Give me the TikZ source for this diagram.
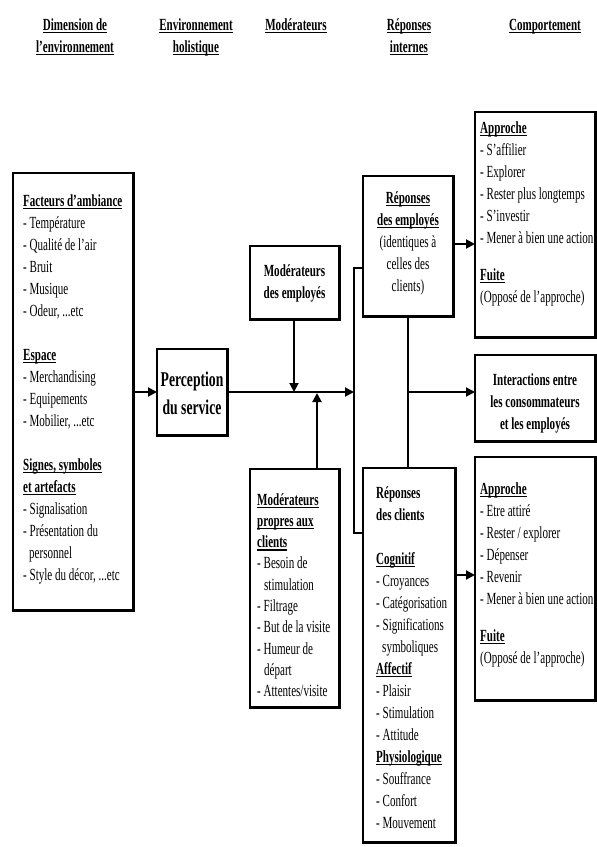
\documentclass[tikz,border=0pt]{standalone}
\usepackage{fontspec}
\setmainfont{Liberation Serif}[FakeStretch=0.65]
\usetikzlibrary{arrows.meta}
\tikzset{
  box/.style={draw, line width=1.3pt, inner sep=0pt, outer sep=0pt, fill=white, anchor=north west},
  txt/.style={inner sep=0pt, anchor=base west, font=\fontsize{17}{22}\selectfont},
  ctxt/.style={inner sep=0pt, anchor=base, font=\fontsize{17}{22}\selectfont},
  arr/.style={line width=2pt, -{Triangle[length=9pt,width=9pt]}},
  ln/.style={line width=2pt},
  shadowline/.style={line width=2.8pt, line cap=rect},
}
\newcommand\shd[1]{\draw[shadowline] ([xshift=0.7pt,yshift=-0.7pt]#1.south west) -- ([xshift=0.7pt,yshift=-0.7pt]#1.south east) -- ([xshift=0.7pt,yshift=-0.7pt]#1.north east);}
\newcommand\hd[1]{\textbf{\setbox0\hbox{#1}\rlap{\vrule height -1.8pt depth 2.9pt width \wd0}\box0}}
\begin{document}
\begin{tikzpicture}[x=1pt,y=-1pt]
\useasboundingbox (0,0) rectangle (597,847);
\fill[white] (0,0) rectangle (597,847);

% headers
\node[ctxt] (h1) at (75,30) {\parbox[t]{140pt}{\centering\hd{Dimension de}\\\hd{l'environnement}}};
\node[ctxt] (h2) at (196,30) {\parbox[t]{140pt}{\centering\hd{Environnement}\\\hd{holistique}}};
\node[ctxt] (h3) at (296,30) {\parbox[t]{140pt}{\centering\hd{Modérateurs}}};
\node[ctxt] (h4) at (409,30) {\parbox[t]{140pt}{\centering\hd{Réponses}\\\hd{internes}}};
\node[ctxt] (h5) at (545,30) {\parbox[t]{140pt}{\centering\hd{Comportement}}};

% boxes
\node[box, minimum width=120pt, minimum height=437pt] (lb) at (13,173) {};
\node[box, minimum width=70pt, minimum height=86pt] (perc) at (157,349) {};
\node[box, minimum width=89pt, minimum height=73pt] (me) at (250,246) {};
\node[box, minimum width=89pt, minimum height=238pt] (mc) at (250,469) {};
\node[box, minimum width=90pt, minimum height=140pt] (re) at (363,176) {};
\node[box, minimum width=92pt, minimum height=374pt] (rc) at (363,468) {};
\node[box, minimum width=120pt, minimum height=225pt] (ap1) at (475,112) {};
\node[box, minimum width=120pt, minimum height=86pt] (inter) at (475,355) {};
\node[box, minimum width=120pt, minimum height=243pt] (ap2) at (475,457) {};
\shd{lb}\shd{perc}\shd{me}\shd{mc}\shd{re}\shd{rc}\shd{ap1}\shd{inter}\shd{ap2}

% texts
\node[txt] (lbt) at (23,206) {\parbox[t]{200pt}{\raggedright
\hd{Facteurs d'ambiance}\\
- Température\\
- Qualité de l'air\\
- Bruit\\
- Musique\\
- Odeur, ...etc\\[22pt]
\hd{Espace}\\
- Merchandising\\
- Equipements\\
- Mobilier, ...etc\\[22pt]
\hd{Signes, symboles}\\
\hd{et artefacts}\\
- Signalisation\\
- Présentation du\\
\hspace*{6pt}personnel\\
- Style du décor, ...etc}};

\node[ctxt, font=\fontsize{21}{28}\selectfont\bfseries] (perct) at (192,386) {\parbox[t]{100pt}{\centering Perception\\du service}};

\node[ctxt] (met) at (294.5,276) {\parbox[t]{100pt}{\centering\textbf{Modérateurs}\\\textbf{des employés}}};

\node[txt, font=\fontsize{17}{21.3}\selectfont] (mct) at (257,505) {\parbox[t]{200pt}{\raggedright
\hd{Modérateurs}\\
\hd{propres aux}\\
\hd{clients}\\
- Besoin de\\
\hspace*{7pt}stimulation\\
- Filtrage\\
- But de la visite\\
- Humeur de\\
\hspace*{7pt}départ\\
- Attentes/visite}};

\node[ctxt] (ret) at (408,203) {\parbox[t]{100pt}{\centering
\hd{Réponses}\\
\hd{des employés}\\
(identiques à\\
celles des\\
clients)}};

\node[txt] (rct) at (376,498) {\parbox[t]{200pt}{\raggedright
\textbf{Réponses}\\
\textbf{des clients}\\[22pt]
\hd{Cognitif}\\
- Croyances\\
- Catégorisation\\
- Significations\\
\hspace*{6pt}symboliques\\
\hd{Affectif}\\
- Plaisir\\
- Stimulation\\
- Attitude\\
\hd{Physiologique}\\
- Souffrance\\
- Confort\\
- Mouvement}};

\node[txt] (ap1t) at (480,133) {\parbox[t]{200pt}{\raggedright
\hd{Approche}\\
- S'affilier\\
- Explorer\\
- Rester plus longtemps\\
- S'investir\\
- Mener à bien une action\\[15pt]
\hd{Fuite}\\
(Opposé de l'approche)}};

\node[ctxt] (intert) at (535,385) {\parbox[t]{120pt}{\centering\bfseries
Interactions entre\\
les consommateurs\\
et les employés}};

\node[txt] (ap2t) at (480,494) {\parbox[t]{200pt}{\raggedright
\hd{Approche}\\
- Etre attiré\\
- Rester / explorer\\
- Dépenser\\
- Revenir\\
- Mener à bien une action\\[15pt]
\hd{Fuite}\\
(Opposé de l'approche)}};

% connectors
\coordinate (jL) at (354,392);
\coordinate (jR) at (408,392);
\coordinate (jE) at (294,392);
\coordinate (jC) at (317,393);
\draw[arr] (lb.east |- perc.west) -- (perc.west);
\draw[arr] (perc.east |- jL) -- (jL);
\draw[ln] (re.west |- 0,268) -- (354,268) -- (354,533) -- (rc.west |- 0,533);
\draw[arr] (me.south -| jE) -- (jE);
\draw[arr] (mc.north -| jC) -- (jC);
\draw[ln] (re.south -| jR) -- (rc.north -| jR);
\draw[arr] (jR) -- (inter.west |- jR);
\draw[arr] (re.east |- 0,244) -- (ap1.west |- 0,244);
\draw[arr] (rc.east |- 0,575) -- (ap2.west |- 0,575);
\end{tikzpicture}
\end{document}
